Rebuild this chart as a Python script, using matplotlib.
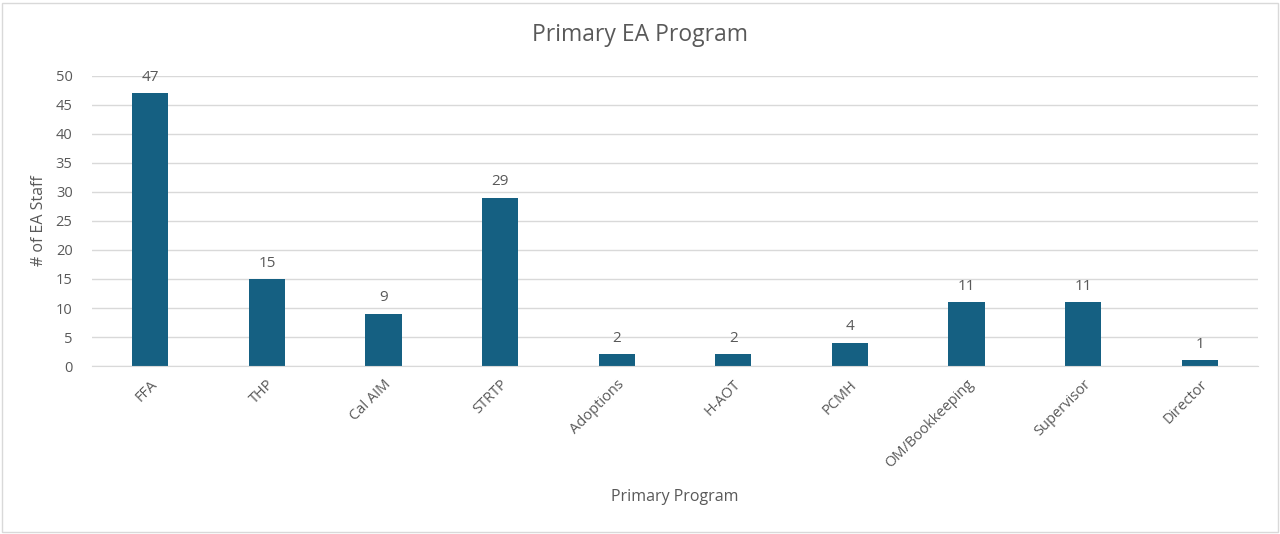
import matplotlib
matplotlib.use("Agg")
import matplotlib.pyplot as plt
from matplotlib.patches import Rectangle

programs = ["FFA", "THP", "Cal AIM", "STRTP", "Adoptions", "H-AOT", "PCMH",
            "OM/Bookkeeping", "Supervisor", "Director"]
staff = [47, 15, 9, 29, 2, 2, 4, 11, 11, 1]
y_ticks = [0, 5, 10, 15, 20, 25, 30, 35, 40, 45, 50]

BAR = "#156082"
TXT = "#595959"
GRID = "#d9d9d9"

plt.rcParams["font.family"] = ["Open Sans", "DejaVu Sans"]

fig = plt.figure(figsize=(12.8, 5.34), dpi=100)
ax = fig.add_axes([0.0719, 0.3146, 0.9109, 0.5431])

x = list(range(len(programs)))
ax.bar(x, staff, width=0.31, color=BAR, zorder=3)
for xi, v in zip(x, staff):
    ax.annotate(str(v), (xi, v), xytext=(0, 6), textcoords="offset points",
                ha="center", va="bottom", fontsize=11, color=TXT)

ax.set_xlim(-0.5, len(programs) - 0.5)
ax.set_ylim(0, 50)
ax.set_yticks(y_ticks)
ax.set_xticks(x)
ax.set_xticklabels(programs, rotation=45, ha="right", rotation_mode="anchor")
ax.tick_params(length=0, labelsize=10.5, colors=TXT)
ax.tick_params(axis="x", pad=8)
ax.tick_params(axis="y", pad=14)
ax.grid(axis="y", color=GRID, linewidth=1, zorder=0)
for s in ["top", "right", "left"]:
    ax.spines[s].set_visible(False)
ax.spines["bottom"].set_color(GRID)
ax.spines["bottom"].set_zorder(4)

ax.set_ylabel("# of EA Staff", fontsize=11.5, color=TXT, labelpad=6)
fig.text(0.5, 1 - 35 / 534, "Primary EA Program", ha="center", va="center",
         fontsize=16.5, color=TXT)
ax.text(0.5, -131 / 290, "Primary Program", transform=ax.transAxes,
        ha="center", va="center", fontsize=11.5, color=TXT)

fig.patches.append(Rectangle((0.0016, 0.004), 0.9968, 0.99, transform=fig.transFigure,
                             fill=False, edgecolor=GRID, linewidth=1))

fig.savefig("out.png", dpi=100)
